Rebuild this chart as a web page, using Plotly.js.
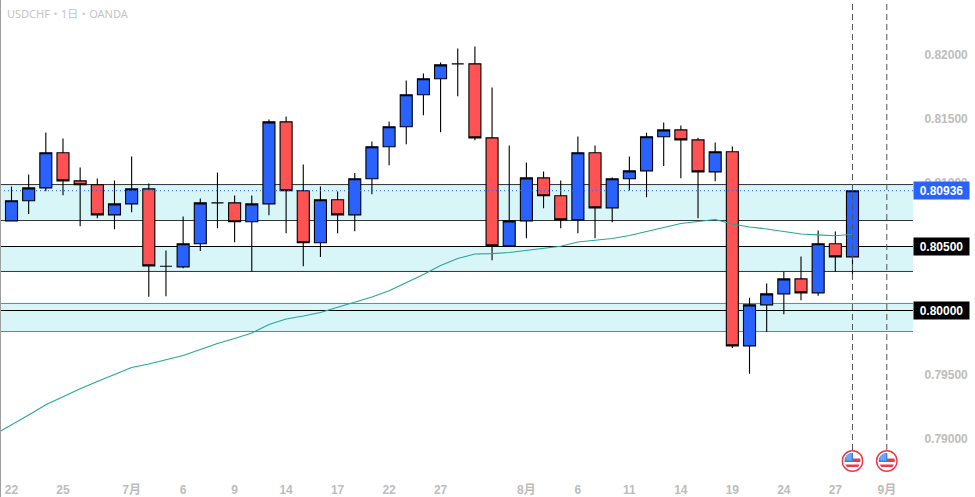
<!DOCTYPE html>
<html>
<head>
<meta charset="utf-8">
<script src="https://cdn.plot.ly/plotly-3.0.1.min.js"></script>
<style>html,body{margin:0;padding:0;background:#fff;overflow:hidden}#c{width:975px;height:497px}</style>
</head>
<body>
<div id="c"></div>
<script>
var candleIndex = [];
for (var n = 0; n < 50; n++) candleIndex.push(n);
var opens  = [.80700,.80857,.80958,.81232,.81013,.80982,.80747,.80833,.80950,.80346,.80341,.80521,.80841,.80841,.80693,.80833,.81474,.80935,.80529,.80865,.80747,.81029,.81279,.81435,.81685,.81810,.81927,.81927,.81349,.80505,.80700,.81036,.80896,.80708,.81232,.80802,.81029,.81091,.81357,.81411,.81333,.81083,.81240,.79724,.80044,.80130,.80247,.80138,.80521,.80419];
var highs  = [.80969,.81062,.81391,.81344,.81117,.81031,.81016,.81203,.80992,.80469,.80734,.80875,.81078,.80898,.80898,.81492,.81516,.81141,.80969,.80930,.81075,.81320,.81476,.81797,.81851,.81937,.82047,.82062,.81742,.81289,.81156,.81086,.81016,.81359,.81289,.81039,.81203,.81388,.81469,.81445,.81349,.81312,.81281,.80099,.80211,.80302,.80422,.80625,.80617,.80936];
var lows   = [.80700,.80753,.80932,.80901,.80659,.80721,.80635,.80768,.80107,.80112,.80331,.80464,.80643,.80534,.80305,.80745,.80604,.80346,.80417,.80604,.80620,.80909,.81135,.81299,.81526,.81393,.81674,.81331,.80393,.80505,.80565,.80799,.80643,.80604,.80565,.80690,.80937,.80885,.81128,.81034,.80721,.81010,.79708,.79505,.79833,.79971,.80081,.80115,.80302,.80247];
var closes = [.80857,.80958,.81232,.81013,.80982,.80747,.80833,.80950,.80349,.80346,.80521,.80841,.80841,.80693,.80833,.81474,.80935,.80529,.80865,.80747,.81029,.81279,.81435,.81685,.81810,.81919,.81927,.81349,.80505,.80700,.81036,.80896,.80708,.81232,.80802,.81029,.81091,.81357,.81411,.81333,.81083,.81240,.79724,.80044,.80130,.80247,.80138,.80521,.80419,.80936];

var maIndex = [-1].concat(candleIndex);
var maValues = [.79031,.79106,.79184,.79263,.79328,.79388,.79445,.79500,.79555,.79582,.79613,.79648,.79695,.79742,.79781,.79824,.79891,.79934,.79957,.79984,.80026,.80063,.80105,.80154,.80215,.80281,.80352,.80406,.80441,.80444,.80453,.80469,.80484,.80502,.80535,.80547,.80563,.80586,.80617,.80652,.80680,.80695,.80711,.80676,.80652,.80637,.80617,.80598,.80591,.80584,.80596];

var xTickIndex = [0,3,7,10,13,16,19,22,25,30,33,36,39,42,45,48,51];
var xTickText = ['22','25','7月','6','9','14','17','22','27','8月','6','11','14','19','24','27','9月'];
var yTicks = [.79,.795,.81,.815,.82];
var yTickText = ['0.79000','0.79500','0.81000','0.81500','0.82000'];

var zoneTops = [.80984,.80500,.80055];
var zoneBottoms = [.80703,.80305,.79836];
var zoneBorders = ['#333333','#333333','#26a69a'];
var levels = [.80500,.80000];
var levelText = ['0.80500','0.80000'];
var lastPrice = .80936;
var lastText = '0.80936';
var eventIndex = [49,51];

var W = 975, H = 497, plotW = 913, plotH = 476;
var pxPerBar = 17.163, firstBarPx = 11.5;
var xRange = [-firstBarPx/pxPerBar, (plotW-firstBarPx)/pxPerBar];
var yRange = [.8-(plotH-310.5)/12800, .8+310.5/12800];

var shapes = [];
zoneTops.forEach(function(t,i){
  shapes.push({type:'rect',layer:'below',xref:'paper',yref:'y',x0:0,x1:1,y0:zoneBottoms[i],y1:t,
    fillcolor:'#d8f5f7',line:{width:0}});
  [t,zoneBottoms[i]].forEach(function(v){
    shapes.push({type:'line',layer:'below',xref:'paper',yref:'y',x0:0,x1:1,y0:v,y1:v,line:{color:zoneBorders[i],width:1}});
  });
});
levels.forEach(function(v){
  shapes.push({type:'line',layer:'below',xref:'paper',yref:'y',x0:0,x1:1,y0:v,y1:v,line:{color:'#000',width:1}});
});
shapes.push({type:'line',layer:'above',xref:'paper',yref:'y',x0:0,x1:1,y0:lastPrice,y1:lastPrice,
  line:{color:'#2962ff',width:1,dash:'1px 3px'}});
eventIndex.forEach(function(x){
  shapes.push({type:'line',layer:'above',xref:'x',yref:'paper',x0:x,x1:x,y0:(plotH-450)/plotH,y1:1,
    line:{color:'#555555',width:1,dash:'6px 4px'}});
});
shapes.push({type:'line',layer:'above',xref:'paper',yref:'paper',x0:0,x1:0,y0:-(H-plotH)/plotH,y1:1,
  line:{color:'#9e9e9e',width:2}});

var flag = 'data:image/svg+xml;utf8,' + encodeURIComponent(
 '<svg xmlns="http://www.w3.org/2000/svg" width="44" height="44" viewBox="0 0 44 44">'+
 '<defs><clipPath id="k"><circle cx="22" cy="22" r="16"/></clipPath></defs>'+
 '<circle cx="22" cy="22" r="20.5" fill="#fff" stroke="#f23645" stroke-width="3"/>'+
 '<g clip-path="url(#k)"><rect x="0" y="0" width="44" height="44" fill="#fff"/>'+
 '<rect x="22" y="17" width="18" height="7" fill="#f23645"/>'+
 '<rect x="4" y="29" width="36" height="5" fill="#f23645"/>'+
 '<rect x="4" y="4" width="19" height="20" fill="#2f80ed"/>'+
 '<path d="M8 10h12M8 14h12M8 18h12M11 7v15M15 7v15M19 7v15" stroke="#bcd8fb" stroke-width="1"/></g></svg>');
var images = eventIndex.map(function(x){
  return {source:flag,xref:'x',yref:'paper',x:x,y:(plotH-461)/plotH,sizex:22/pxPerBar,sizey:22/plotH,
    xanchor:'center',yanchor:'middle',sizing:'stretch',layer:'above'};
});

var tagFont = {family:'"Liberation Sans",sans-serif',size:12,color:'#fff',weight:'bold'};
var annotations = [{xref:'paper',yref:'paper',x:0,y:1,xshift:5,yshift:-4,xanchor:'left',yanchor:'top',showarrow:false,
  text:'USDCHF・1日・OANDA',font:{family:'"Noto Sans","Noto Sans CJK JP",sans-serif',size:11,color:'#c4c4c4'}}];
function tag(v,txt,bg){
  annotations.push({xref:'paper',yref:'y',x:1,y:v,xanchor:'left',yanchor:'middle',showarrow:false,
    text:txt,font:tagFont,bgcolor:bg,borderpad:1,width:53,height:15,align:'center'});
}
tag(lastPrice,lastText,'#2962ff');
levels.forEach(function(v,i){tag(v,levelText[i],'#000000');});

Plotly.newPlot('c',[
 {type:'candlestick',x:candleIndex,open:opens,high:highs,low:lows,close:closes,
  increasing:{line:{color:'#000',width:1.1},fillcolor:'#2962ff'},
  decreasing:{line:{color:'#000',width:1.1},fillcolor:'#ff5252'},
  whiskerwidth:0,hoverinfo:'skip',showlegend:false},
 {type:'scatter',mode:'lines',x:maIndex,y:maValues,line:{color:'#26a69a',width:1.1},hoverinfo:'skip',showlegend:false}
],{
 width:W,height:H,margin:{l:0,r:W-plotW,t:0,b:H-plotH,pad:0},
 paper_bgcolor:'#fff',plot_bgcolor:'#fff',showlegend:false,boxgap:0.3,boxgroupgap:0,
 xaxis:{type:'linear',range:xRange,rangeslider:{visible:false},showgrid:false,zeroline:false,showline:false,
   tickmode:'array',tickvals:xTickIndex,ticktext:xTickText,ticks:'outside',ticklen:3,tickcolor:'rgba(0,0,0,0)',
   tickfont:{family:'"Liberation Sans","Noto Sans CJK JP",sans-serif',size:12,color:'#bdbdbd',weight:'bold'}},
 yaxis:{side:'right',range:yRange,showgrid:false,zeroline:false,showline:false,
   tickmode:'array',tickvals:yTicks,ticktext:yTickText,ticks:'outside',ticklen:8,tickcolor:'rgba(0,0,0,0)',
   tickfont:{family:'"Liberation Sans",sans-serif',size:12,color:'#bdbdbd',weight:'bold'}},
 shapes:shapes,images:images,annotations:annotations
},{displayModeBar:false,staticPlot:true});
</script>
</body>
</html>
